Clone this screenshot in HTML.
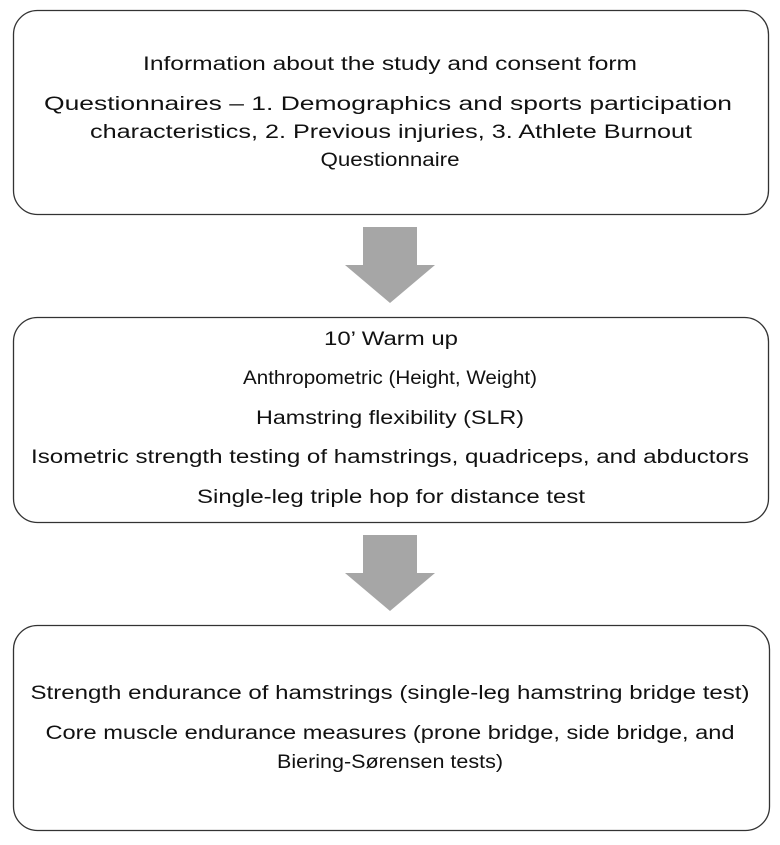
<!DOCTYPE html>
<html><head><meta charset="utf-8"><style>
html,body{margin:0;padding:0;background:#fff;width:780px;height:845px;overflow:hidden}
text{font-family:"Liberation Sans",sans-serif;font-size:19px;fill:#111}
</style></head><body>
<svg width="780" height="845" viewBox="0 0 780 845" xmlns="http://www.w3.org/2000/svg">
<rect x="13.5" y="10.5" width="755" height="204" rx="24" fill="#fff" stroke="#333" stroke-width="1.3"/>
<rect x="13.5" y="317.5" width="755" height="205" rx="24" fill="#fff" stroke="#333" stroke-width="1.3"/>
<rect x="13.5" y="625.5" width="756" height="205" rx="24" fill="#fff" stroke="#333" stroke-width="1.3"/>
<polygon points="363,227 417,227 417,265 435,265 390,303 345,265 363,265" fill="#a6a6a6"/>
<polygon points="363,535 417,535 417,573 435,573 390,611 345,573 363,573" fill="#a6a6a6"/>
<g text-anchor="middle" lengthAdjust="spacingAndGlyphs">
<text x="390" y="70" textLength="494" lengthAdjust="spacingAndGlyphs">Information about the study and consent form</text>
<text x="388" y="110" textLength="688" lengthAdjust="spacingAndGlyphs">Questionnaires – 1. Demographics and sports participation</text>
<text x="391" y="138" textLength="602" lengthAdjust="spacingAndGlyphs">characteristics, 2. Previous injuries, 3. Athlete Burnout</text>
<text x="390" y="166" textLength="139" lengthAdjust="spacingAndGlyphs">Questionnaire</text>
<text x="391" y="345" textLength="134" lengthAdjust="spacingAndGlyphs">10’ Warm up</text>
<text x="390" y="384" textLength="294" lengthAdjust="spacingAndGlyphs">Anthropometric (Height, Weight)</text>
<text x="390" y="424" textLength="268" lengthAdjust="spacingAndGlyphs">Hamstring flexibility (SLR)</text>
<text x="390" y="463" textLength="718" lengthAdjust="spacingAndGlyphs">Isometric strength testing of hamstrings, quadriceps, and abductors</text>
<text x="391" y="503" textLength="388" lengthAdjust="spacingAndGlyphs">Single-leg triple hop for distance test</text>
<text x="390" y="699" textLength="719" lengthAdjust="spacingAndGlyphs">Strength endurance of hamstrings (single-leg hamstring bridge test)</text>
<text x="390" y="739" textLength="689" lengthAdjust="spacingAndGlyphs">Core muscle endurance measures (prone bridge, side bridge, and</text>
<text x="390" y="768" textLength="226" lengthAdjust="spacingAndGlyphs">Biering-Sørensen tests)</text>
</g>
</svg>
</body></html>
